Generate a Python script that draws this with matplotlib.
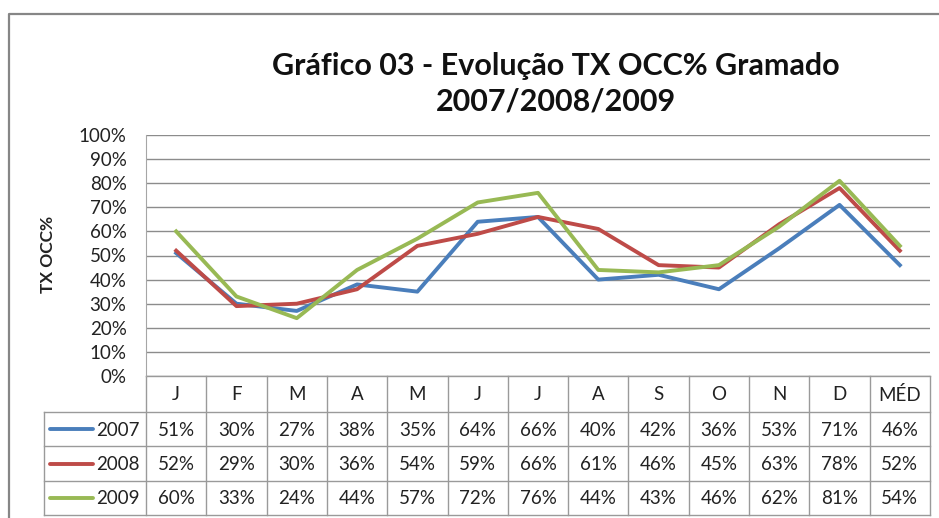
import numpy as np
import matplotlib
matplotlib.use("Agg")
import matplotlib.pyplot as plt
from matplotlib.ticker import FuncFormatter

plt.rcParams['font.family'] = ['Lato', 'DejaVu Sans']

# data (percent)
months = ["J", "F", "M", "A", "M", "J", "J", "A", "S", "O", "N", "D", "MÉD"]
years = ["2007", "2008", "2009"]
occ_2007 = [51, 30, 27, 38, 35, 64, 66, 40, 42, 36, 53, 71, 46]
occ_2008 = [52, 29, 30, 36, 54, 59, 66, 61, 46, 45, 63, 78, 52]
occ_2009 = [60, 33, 24, 44, 57, 72, 76, 44, 43, 46, 62, 81, 54]
series = [occ_2007, occ_2008, occ_2009]
colors = ["#4A7EBB", "#BE4B48", "#98B954"]

W, H = 939, 518
grid_col = "#8c8c8c"
text_col = "#222222"

fig = plt.figure(figsize=(W / 100, H / 100), dpi=100)

# overlay in pixel coords for frame, title and data table
ov = fig.add_axes([0, 0, 1, 1])
ov.set_xlim(0, W)
ov.set_ylim(H, 0)
ov.axis('off')

# chart frame
ov.plot([9, 9, W + 5], [H + 5, 14, 14], color="#868686", lw=1.6, solid_capstyle='butt')

# plot area
left, right, top, bottom = 146, 930, 135, 376
ax = fig.add_axes([left / W, 1 - bottom / H, (right - left) / W, (bottom - top) / H])
ax.set_xlim(0, len(months))
ax.set_ylim(0, 1)
ax.set_yticks(np.arange(0, 1.01, 0.1))
ax.yaxis.set_major_formatter(FuncFormatter(lambda v, p: f"{v * 100:.0f}%"))
ax.set_xticks([])
ax.tick_params(axis='y', length=0, pad=14, labelsize=13.5, labelcolor=text_col)
ax.grid(axis='y', color=grid_col, lw=1)
ax.set_axisbelow(True)
for s in ["top", "right", "bottom"]:
    ax.spines[s].set_visible(False)
ax.spines["left"].set_color("#a6a6a6")
ax.patch.set_alpha(0)

x = np.arange(len(months)) + 0.5
for vals, c in zip(series, colors):
    ax.plot(x, np.array(vals) / 100, color=c, lw=2.8, solid_joinstyle='round', clip_on=False)

fig.text(48 / W, 1 - 254 / H, "TX OCC%", rotation=90, ha='center', va='center',
         fontsize=12.5, fontweight='bold', color=text_col)

# title
ov.text(556, 66, "Gráfico 03 - Evolução TX OCC% Gramado", ha='center', va='center',
        fontsize=22, fontweight='bold', color="#111111")
ov.text(556, 101, "2007/2008/2009", ha='center', va='center',
        fontsize=22, fontweight='bold', color="#111111")

# data table
cw = (right - left) / len(months)
leg_left = 44
row_y = [376, 412, 446, 481, 515]
tcol = "#9a9a9a"
ov.plot([left, right], [row_y[0], row_y[0]], color=tcol, lw=1)
for y in row_y[1:]:
    ov.plot([leg_left, right], [y, y], color=tcol, lw=1)
for i in range(len(months) + 1):
    xx = left + i * cw
    ov.plot([xx, xx], [row_y[0], row_y[-1]], color=tcol, lw=1)
ov.plot([leg_left, leg_left], [row_y[1], row_y[-1]], color=tcol, lw=1)

for i, m in enumerate(months):
    ov.text(left + (i + 0.5) * cw, (row_y[0] + row_y[1]) / 2 + 1, m, ha='center', va='center',
            fontsize=13.5, color=text_col)
for r, (yr, vals, c) in enumerate(zip(years, series, colors)):
    yc = (row_y[r + 1] + row_y[r + 2]) / 2 + 1
    ov.plot([50, 93], [yc - 1, yc - 1], color=c, lw=2.8, solid_capstyle='round')
    ov.text(140, yc, yr, ha='right', va='center', fontsize=13.5, color=text_col)
    for i, v in enumerate(vals):
        ov.text(left + (i + 0.5) * cw, yc, f"{v}%", ha='center', va='center',
                fontsize=13.5, color=text_col)

fig.savefig("out.png", dpi=100)
